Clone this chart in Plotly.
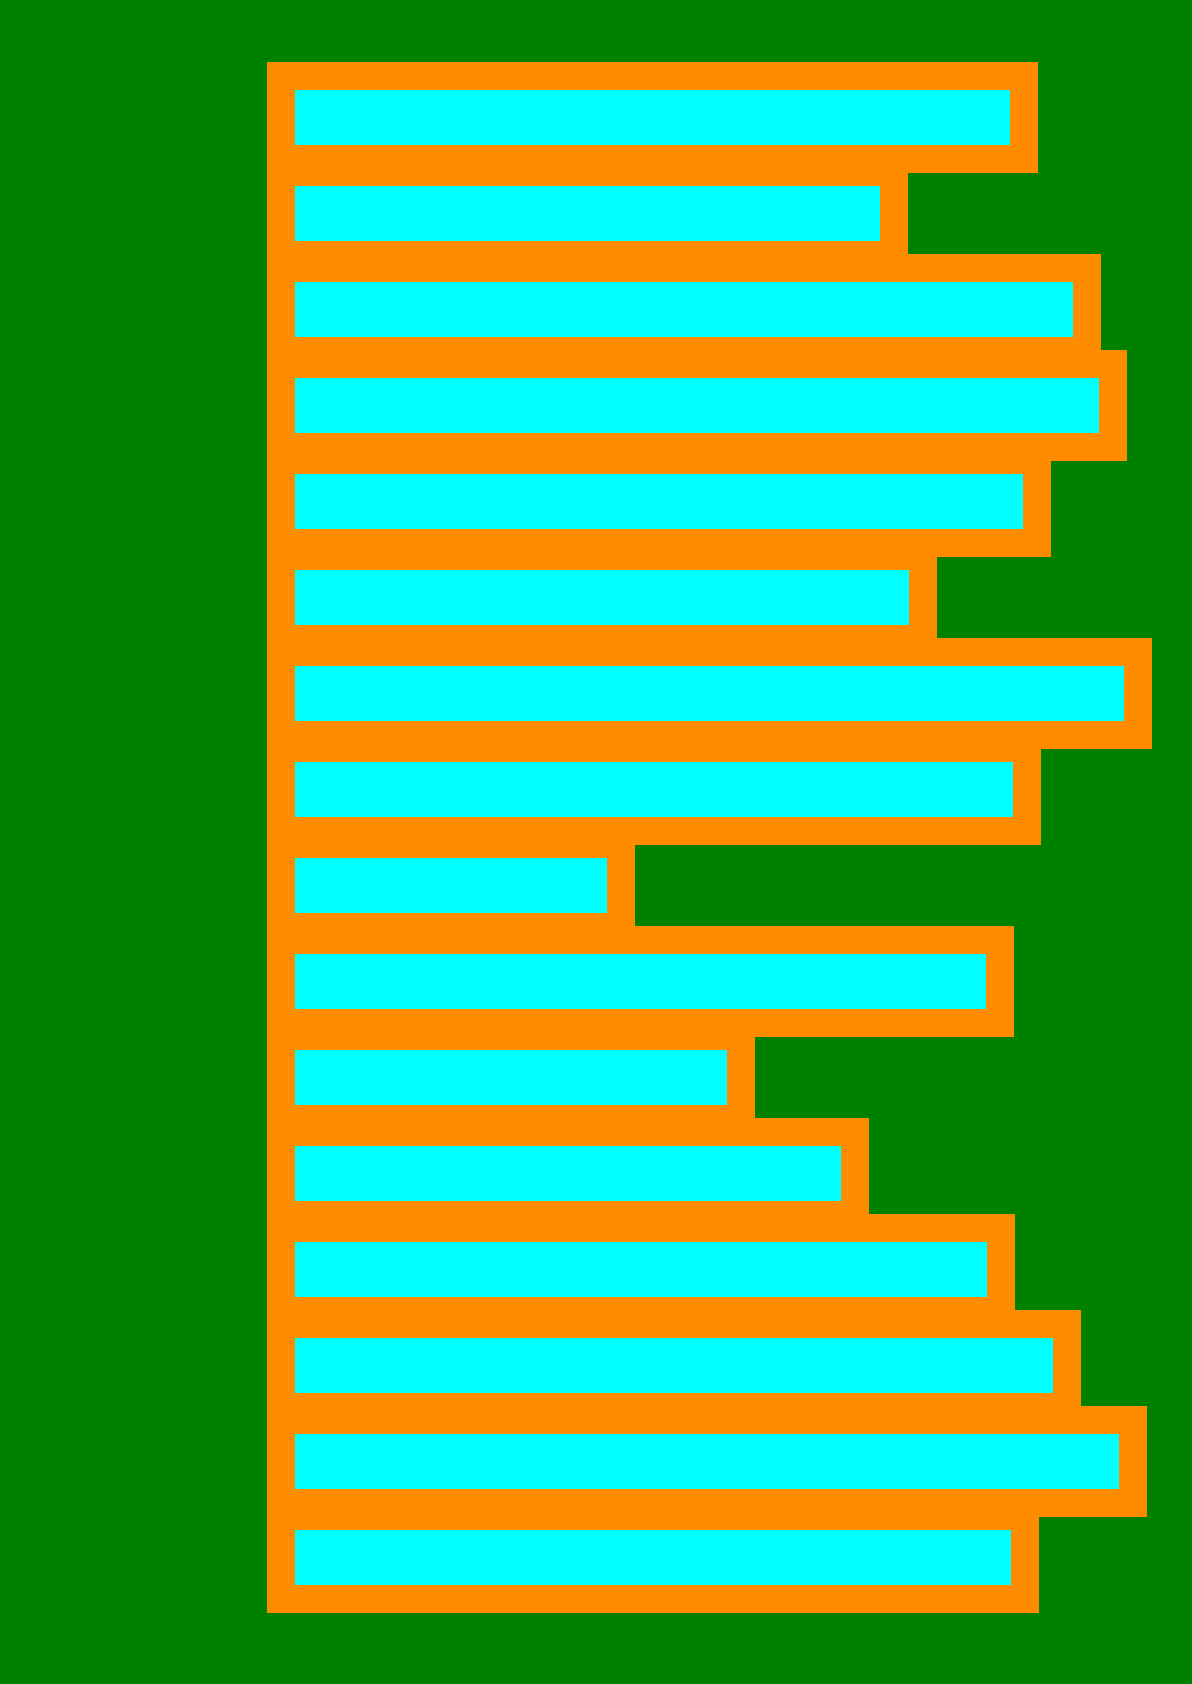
import plotly.graph_objects as go

# Categories listed top to bottom (labels are not shown in the chart)
categories = [f"Item {i}" for i in range(1, 17)]
values = [74.3, 61.3, 80.6, 83.2, 75.6, 64.2, 85.7, 74.6,
          34.0, 71.9, 46.0, 57.4, 72.0, 78.6, 85.2, 74.4]

fig = go.Figure(
    go.Bar(
        x=values,
        y=categories,
        orientation="h",
        marker=dict(color="#00FFFF", line=dict(color="#FF8C00", width=28)),
        hoverinfo="skip",
    )
)

fig.update_layout(
    width=1192,
    height=1684,
    margin=dict(l=260, r=11, t=50, b=50),
    paper_bgcolor="green",
    plot_bgcolor="green",
    bargap=0.135,
    showlegend=False,
    xaxis=dict(range=[-2.1, 90], showgrid=False, zeroline=False,
               showticklabels=False, showline=False, ticks=""),
    yaxis=dict(range=[15.796875, -0.703125], showgrid=False, zeroline=False,
               showticklabels=False, showline=False, ticks=""),
)

fig.write_html("out.html")
